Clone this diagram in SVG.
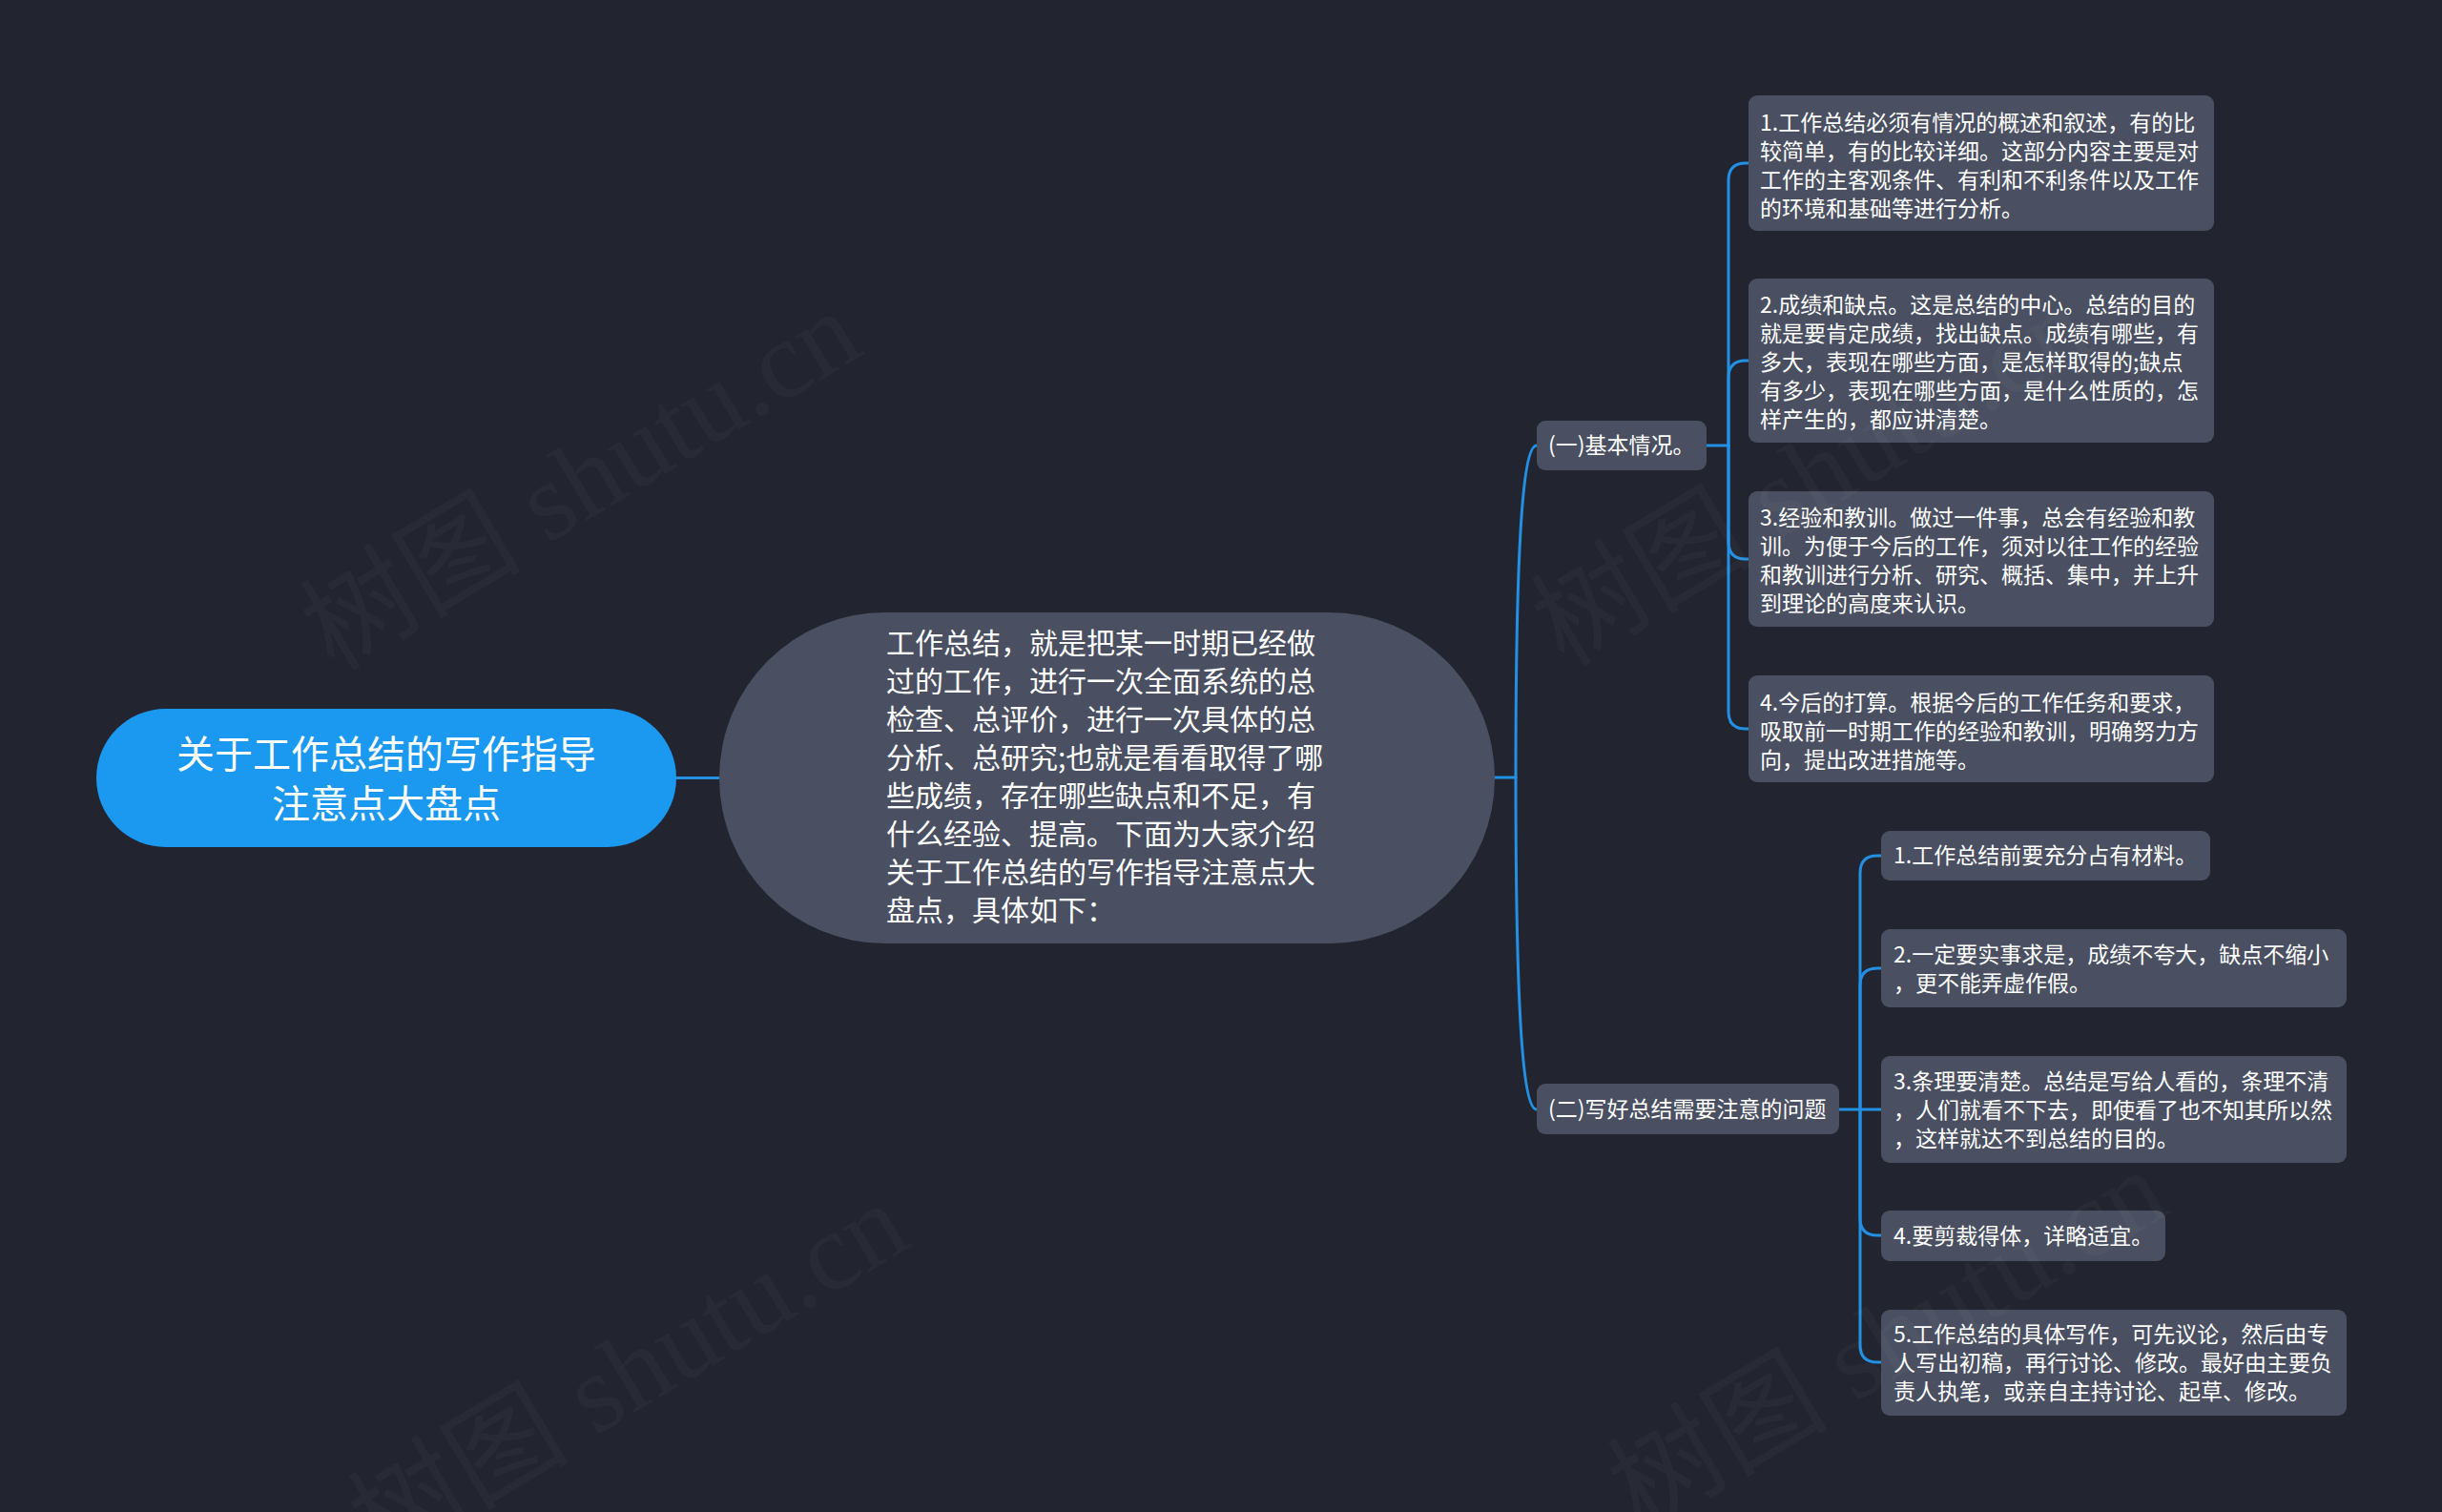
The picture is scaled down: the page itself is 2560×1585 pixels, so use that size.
<svg xmlns="http://www.w3.org/2000/svg" width="2560" height="1585" viewBox="0 0 2560 1585">
<style>
.bg{fill:#22252f}
.root{fill:#1b98ef}
.main{fill:#4a5061}
.box{fill:#4a5061}
.t{fill:#ffffff;font-family:"Noto Sans CJK SC","Noto Sans",sans-serif}
.t40{font-size:40px}
.t30{font-size:30px}
.t22{font-size:23px}
.ln{fill:none;stroke:#2390e4;stroke-width:3;stroke-linecap:round;stroke-linejoin:round}
.wm{fill:#ffffff;fill-opacity:0.03;font-family:"Liberation Serif","Noto Sans CJK SC",serif;font-size:116px}
</style>
<rect class="bg" x="0" y="0" width="2560" height="1585"/>

<g id="connectors">
<path class="ln" d="M709 815.5 H754"/>
<path class="ln" d="M1567 815 H1589"/>
<path class="ln" d="M1589 815 C1589 560 1597 467 1611 467"/>
<path class="ln" d="M1589 815 C1589 1070 1597 1163 1611 1163"/>
<path class="ln" d="M1789 467 H1812"/>
<path class="ln" d="M1812 467 V189 Q1812 171 1830 171 H1833"/>
<path class="ln" d="M1812 467 V396 Q1812 378 1830 378 H1833"/>
<path class="ln" d="M1812 467 V568 Q1812 586 1830 586 H1833"/>
<path class="ln" d="M1812 467 V746 Q1812 764 1830 764 H1833"/>
<path class="ln" d="M1928 1163 H1972"/>
<path class="ln" d="M1950 1163 V915 Q1950 897 1968 897 H1972"/>
<path class="ln" d="M1950 1163 V1033 Q1950 1015 1968 1015 H1972"/>
<path class="ln" d="M1950 1163 V1277 Q1950 1295 1968 1295 H1972"/>
<path class="ln" d="M1950 1163 V1410 Q1950 1428 1968 1428 H1972"/>
</g>

<g id="root">
<rect class="root" x="101" y="743" width="608" height="145" rx="72.5"/>
<text class="t t40" x="405" y="805" text-anchor="middle">关于工作总结的写作指导</text>
<text class="t t40" x="405" y="857" text-anchor="middle">注意点大盘点</text>
</g>

<g id="main">
<rect class="main" x="754" y="642" width="813" height="347" rx="173.5"/>
<text class="t t30" x="929" y="685">工作总结，就是把某一时期已经做</text>
<text class="t t30" x="929" y="725">过的工作，进行一次全面系统的总</text>
<text class="t t30" x="929" y="765">检查、总评价，进行一次具体的总</text>
<text class="t t30" x="929" y="805">分析、总研究;也就是看看取得了哪</text>
<text class="t t30" x="929" y="845">些成绩，存在哪些缺点和不足，有</text>
<text class="t t30" x="929" y="885">什么经验、提高。下面为大家介绍</text>
<text class="t t30" x="929" y="925">关于工作总结的写作指导注意点大</text>
<text class="t t30" x="929" y="965">盘点，具体如下：</text>
</g>

<g id="sec1">
<rect class="box" x="1611" y="441" width="178" height="52" rx="9"/>
<text class="t t22" x="1623" y="475">(一)基本情况。</text>
</g>

<g id="sec2">
<rect class="box" x="1611" y="1136" width="317" height="53" rx="9"/>
<text class="t t22" x="1623" y="1171">(二)写好总结需要注意的问题</text>
</g>

<g id="a1">
<rect class="box" x="1833" y="100" width="488" height="142" rx="9"/>
<text class="t t22" x="1845" y="137">1.工作总结必须有情况的概述和叙述，有的比</text>
<text class="t t22" x="1845" y="167">较简单，有的比较详细。这部分内容主要是对</text>
<text class="t t22" x="1845" y="197">工作的主客观条件、有利和不利条件以及工作</text>
<text class="t t22" x="1845" y="227">的环境和基础等进行分析。</text>
</g>

<g id="a2">
<rect class="box" x="1833" y="292" width="488" height="172" rx="9"/>
<text class="t t22" x="1845" y="328">2.成绩和缺点。这是总结的中心。总结的目的</text>
<text class="t t22" x="1845" y="358">就是要肯定成绩，找出缺点。成绩有哪些，有</text>
<text class="t t22" x="1845" y="388">多大，表现在哪些方面，是怎样取得的;缺点</text>
<text class="t t22" x="1845" y="418">有多少，表现在哪些方面，是什么性质的，怎</text>
<text class="t t22" x="1845" y="448">样产生的，都应讲清楚。</text>
</g>

<g id="a3">
<rect class="box" x="1833" y="515" width="488" height="142" rx="9"/>
<text class="t t22" x="1845" y="551">3.经验和教训。做过一件事，总会有经验和教</text>
<text class="t t22" x="1845" y="581">训。为便于今后的工作，须对以往工作的经验</text>
<text class="t t22" x="1845" y="611">和教训进行分析、研究、概括、集中，并上升</text>
<text class="t t22" x="1845" y="641">到理论的高度来认识。</text>
</g>

<g id="a4">
<rect class="box" x="1833" y="708" width="488" height="112" rx="9"/>
<text class="t t22" x="1845" y="745">4.今后的打算。根据今后的工作任务和要求，</text>
<text class="t t22" x="1845" y="775">吸取前一时期工作的经验和教训，明确努力方</text>
<text class="t t22" x="1845" y="805">向，提出改进措施等。</text>
</g>

<g id="b1">
<rect class="box" x="1972" y="871" width="345" height="52" rx="9"/>
<text class="t t22" x="1985" y="905">1.工作总结前要充分占有材料。</text>
</g>

<g id="b2">
<rect class="box" x="1972" y="974" width="488" height="82" rx="9"/>
<text class="t t22" x="1985" y="1009">2.一定要实事求是，成绩不夸大，缺点不缩小</text>
<text class="t t22" x="1985" y="1039">，更不能弄虚作假。</text>
</g>

<g id="b3">
<rect class="box" x="1972" y="1107" width="488" height="112" rx="9"/>
<text class="t t22" x="1985" y="1142">3.条理要清楚。总结是写给人看的，条理不清</text>
<text class="t t22" x="1985" y="1172">，人们就看不下去，即使看了也不知其所以然</text>
<text class="t t22" x="1985" y="1202">，这样就达不到总结的目的。</text>
</g>

<g id="b4">
<rect class="box" x="1972" y="1269" width="298" height="53" rx="9"/>
<text class="t t22" x="1985" y="1304">4.要剪裁得体，详略适宜。</text>
</g>

<g id="b5">
<rect class="box" x="1972" y="1373" width="488" height="111" rx="9"/>
<text class="t t22" x="1985" y="1407">5.工作总结的具体写作，可先议论，然后由专</text>
<text class="t t22" x="1985" y="1437">人写出初稿，再行讨论、修改。最好由主要负</text>
<text class="t t22" x="1985" y="1467">责人执笔，或亲自主持讨论、起草、修改。</text>
</g>

<g id="watermarks">
<text class="wm" x="350" y="705" transform="rotate(-31 350 705)">树图 shutu.cn</text>
<text class="wm" x="1640" y="700" transform="rotate(-31 1640 700)">树图 shutu.cn</text>
<text class="wm" x="400" y="1640" transform="rotate(-31 400 1640)">树图 shutu.cn</text>
<text class="wm" x="1720" y="1605" transform="rotate(-31 1720 1605)">树图 shutu.cn</text>
</g>
</svg>
